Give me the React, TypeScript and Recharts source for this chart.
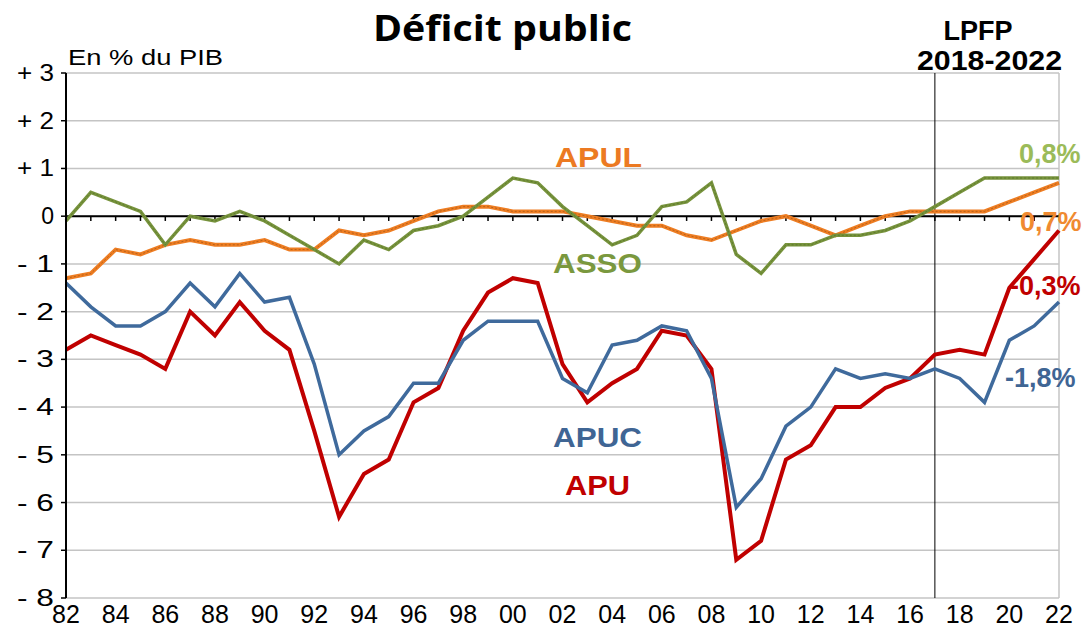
import React from 'react';
import {
  LineChart,
  Line,
  XAxis,
  YAxis,
  CartesianGrid,
  ReferenceLine
} from 'recharts';

const years = [
  1982, 1983, 1984, 1985, 1986, 1987, 1988, 1989, 1990, 1991, 1992, 1993, 1994, 1995,
  1996, 1997, 1998, 1999, 2000, 2001, 2002, 2003, 2004, 2005, 2006, 2007, 2008, 2009,
  2010, 2011, 2012, 2013, 2014, 2015, 2016, 2017, 2018, 2019, 2020, 2021, 2022
];

const apu = [
  -2.8, -2.5, -2.7, -2.9, -3.2, -2.0, -2.5, -1.8, -2.4, -2.8, -4.5, -6.3,
  -5.4, -5.1, -3.9, -3.6, -2.4, -1.6, -1.3, -1.4, -3.1, -3.9, -3.5, -3.2, -2.4, -2.5, -3.2, -7.2,
  -6.8, -5.1, -4.8, -4.0, -4.0, -3.6, -3.4, -2.9, -2.8, -2.9, -1.5, -0.9, -0.3
];

const apuc = [
  -1.4, -1.9, -2.3, -2.3, -2.0, -1.4, -1.9, -1.2, -1.8, -1.7, -3.1, -5.0,
  -4.5, -4.2, -3.5, -3.5, -2.6, -2.2, -2.2, -2.2, -3.4, -3.7, -2.7, -2.6, -2.3, -2.4, -3.4, -6.1,
  -5.5, -4.4, -4.0, -3.2, -3.4, -3.3, -3.4, -3.2, -3.4, -3.9, -2.6, -2.3, -1.8
];

const apul = [
  -1.3, -1.2, -0.7, -0.8, -0.6, -0.5, -0.6, -0.6, -0.5, -0.7, -0.7, -0.3,
  -0.4, -0.3, -0.1, 0.1, 0.2, 0.2, 0.1, 0.1, 0.1, 0.0, -0.1, -0.2, -0.2, -0.4, -0.5, -0.3,
  -0.1, 0.0, -0.2, -0.4, -0.2, 0.0, 0.1, 0.1, 0.1, 0.1, 0.3, 0.5, 0.7
];

const asso = [
  -0.1, 0.5, 0.3, 0.1, -0.6, 0.0, -0.1, 0.1, -0.1, -0.4, -0.7, -1.0,
  -0.5, -0.7, -0.3, -0.2, 0.0, 0.4, 0.8, 0.7, 0.2, -0.2, -0.6, -0.4, 0.2, 0.3, 0.7, -0.8,
  -1.2, -0.6, -0.6, -0.4, -0.4, -0.3, -0.1, 0.2, 0.5, 0.8, 0.8, 0.8, 0.8
];

const xTicks = [1982, 1984, 1986, 1988, 1990, 1992, 1994, 1996, 1998, 2000, 2002, 2004, 2006, 2008, 2010, 2012, 2014, 2016, 2018, 2020, 2022];
const yTicks = [-8, -7, -6, -5, -4, -3, -2, -1, 0, 1, 2, 3];

const data = years.map((year, i) => ({
  year,
  apu: apu[i],
  apuc: apuc[i],
  apul: apul[i],
  asso: asso[i]
}));

const SANS = '"Liberation Sans", Arial, sans-serif';

const fmtY = (v: number) => (v > 0 ? `+ ${v}` : v < 0 ? `- ${Math.abs(v)}` : '0');

const XTick = ({ x, y, payload }: any) => (
  <text x={x} y={y + 25} textAnchor="middle" fontSize={25} fill="#000" fontFamily={SANS}>
    {String(payload.value).slice(2)}
  </text>
);

const YTick = ({ x, y, payload }: any) => {
  const label = fmtY(payload.value);
  return (
    <text
      x={x}
      y={y + 8}
      textAnchor="end"
      fontSize={23}
      fill="#000"
      fontFamily={SANS}
      textLength={label.length > 1 ? 37 : undefined}
      lengthAdjust="spacingAndGlyphs"
    >
      {label}
    </text>
  );
};

export default function App() {
  return (
    <div style={{ position: 'absolute', left: 0, top: 0, width: 1083, height: 629, overflow: 'hidden', background: '#fff' }}>
      <LineChart width={1083} height={629} data={data} margin={{ top: 73, right: 24, left: 6, bottom: 0 }}>
        <CartesianGrid vertical={false} stroke="#c4c4c4" strokeWidth={1.5} />
        <XAxis
          dataKey="year"
          type="number"
          domain={[1982, 2022]}
          ticks={xTicks}
          interval={0}
          axisLine={false}
          tickLine={false}
          tickSize={0}
          tickMargin={0}
          height={31}
          tick={<XTick />}
        />
        <YAxis
          domain={[-8, 3]}
          ticks={yTicks}
          interval={0}
          width={60}
          axisLine={{ stroke: '#000', strokeWidth: 2 }}
          tickLine={{ stroke: '#000', strokeWidth: 1.5 }}
          tickSize={5}
          tickMargin={7}
          tick={<YTick />}
        />
        <ReferenceLine x={2022} stroke="#c4c4c4" strokeWidth={1.5} />
        <ReferenceLine y={0} stroke="#000" strokeWidth={2} />
        {years.slice(1, -1).map((yr) => (
          <ReferenceLine key={yr} segment={[{ x: yr, y: 0 }, { x: yr, y: -0.1 }]} stroke="#000" strokeWidth={1.5} />
        ))}
        <ReferenceLine x={2017} stroke="#000" strokeWidth={1} />
        <Line type="linear" dataKey="apu" stroke="#C00000" strokeWidth={4} dot={false} isAnimationActive={false} />
        <Line type="linear" dataKey="apuc" stroke="#3F6A9C" strokeWidth={3.5} dot={false} isAnimationActive={false} />
        <Line type="linear" dataKey="apul" stroke="#EE7D22" strokeWidth={4} dot={false} isAnimationActive={false} />
        <Line type="linear" dataKey="apul" stroke="#B8621A" strokeWidth={1} strokeDasharray="2 2" dot={false} isAnimationActive={false} />
        <Line type="linear" dataKey="asso" stroke="#77933C" strokeWidth={3.5} dot={false} isAnimationActive={false} />
        <Line type="linear" dataKey="asso" stroke="#5E7A2E" strokeWidth={1} strokeDasharray="2 2" dot={false} isAnimationActive={false} />
      </LineChart>
      <svg width={1083} height={629} style={{ position: 'absolute', left: 0, top: 0, pointerEvents: 'none' }}>
        <text x={373} y={41} fontSize={36} fontWeight={700} fontFamily='"Open Sans", sans-serif' fill="#000" textLength={259} lengthAdjust="spacingAndGlyphs">
          Déficit public
        </text>
        <text x={68} y={65} fontSize={22} fontFamily={SANS} fill="#000" textLength={155} lengthAdjust="spacingAndGlyphs">
          En % du PIB
        </text>
        <text x={978} y={40} textAnchor="middle" fontSize={27} fontWeight={700} fontFamily={SANS} fill="#000">
          LPFP
        </text>
        <text x={917} y={70} fontSize={28} fontWeight={700} fontFamily={SANS} fill="#000" textLength={145} lengthAdjust="spacingAndGlyphs">
          2018-2022
        </text>
        <text x={555} y={167} fontSize={28} fontWeight={700} fontFamily={SANS} fill="#EC7A22" textLength={87} lengthAdjust="spacingAndGlyphs">
          APUL
        </text>
        <text x={553} y={273} fontSize={28} fontWeight={700} fontFamily={SANS} fill="#7A983E" textLength={89} lengthAdjust="spacingAndGlyphs">
          ASSO
        </text>
        <text x={553} y={447} fontSize={28} fontWeight={700} fontFamily={SANS} fill="#3F6594" textLength={89} lengthAdjust="spacingAndGlyphs">
          APUC
        </text>
        <text x={565} y={495} fontSize={28} fontWeight={700} fontFamily={SANS} fill="#C00000" textLength={65} lengthAdjust="spacingAndGlyphs">
          APU
        </text>
        <text x={1019} y={163} fontSize={27} fontWeight={700} fontFamily={SANS} fill="#9BBB59">0,8%</text>
        <text x={1020} y={231} fontSize={27} fontWeight={700} fontFamily={SANS} fill="#F08A30">0,7%</text>
        <text x={1010} y={295} fontSize={27} fontWeight={700} fontFamily={SANS} fill="#C00000">-0,3%</text>
        <text x={1005} y={387} fontSize={27} fontWeight={700} fontFamily={SANS} fill="#3F6594">-1,8%</text>
      </svg>
    </div>
  );
}
